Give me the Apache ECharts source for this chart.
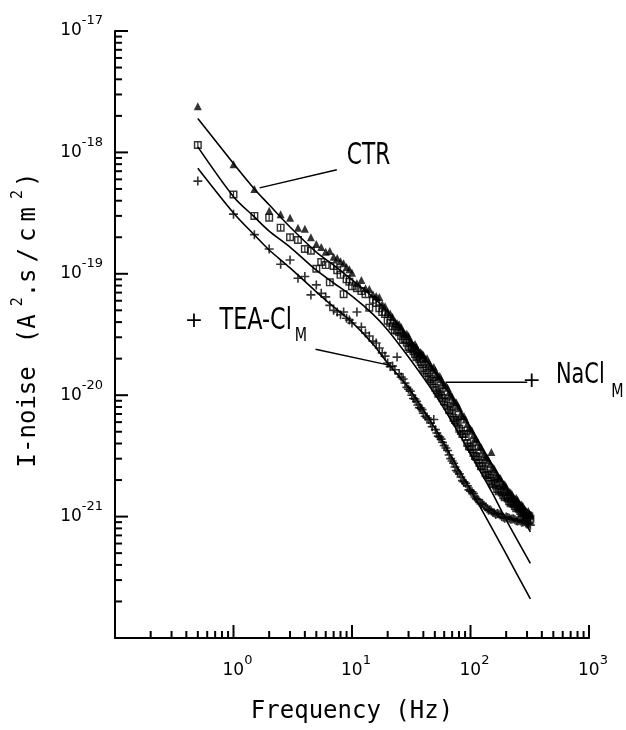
<!DOCTYPE html>
<html>
<head>
<meta charset="utf-8">
<script src="https://cdn.jsdelivr.net/npm/echarts@6/dist/echarts.min.js"></script>
<style>
  html, body { margin: 0; padding: 0; background: #fff; }
  #chart { width: 626px; height: 730px; }
</style>
</head>
<body>
<div id="chart"></div>
<script>
// Current-noise power spectra: control (CTR), NaCl mucosal and TEA-Cl mucosal.
const freq = [0.5, 1, 1.5, 2, 2.5, 3, 3.5, 4, 4.5, 5,
  5.5, 6, 6.5, 7, 7.5, 8, 8.5, 9, 9.5, 10,
  11, 12, 13, 14, 15, 16, 17, 18, 19, 20,
  22, 24, 26, 28, 30, 32, 34, 36, 38, 40,
  43, 46, 49, 52, 55, 58, 62, 66, 70, 74,
  78, 83, 88, 94, 100, 106, 112, 119, 126, 134,
  142, 150, 159, 168, 178, 189, 200, 212, 224, 237,
  250, 263, 277, 292, 307, 320];

const ctrNoise = [2.4e-18, 8.0e-19, 5.0e-19, 3.3e-19, 3.1e-19, 2.9e-19, 2.4e-19, 2.35e-19, 2.0e-19, 1.76e-19,
  1.66e-19, 1.52e-19, 1.54e-19, 1.38e-19, 1.35e-19, 1.27e-19, 1.22e-19, 1.14e-19, 1.09e-19, 1.02e-19,
  8.4e-20, 8.9e-20, 7.6e-20, 7.5e-20, 6.8e-20, 6.55e-20, 6.45e-20, 5.6e-20, 5.4e-20, 4.85e-20,
  4.4e-20, 3.93e-20, 3.64e-20, 3.19e-20, 3.07e-20, 2.69e-20, 2.64e-20, 2.36e-20, 2.27e-20, 2.14e-20,
  2.02e-20, 1.77e-20, 1.71e-20, 1.49e-20, 1.44e-20, 1.28e-20, 1.21e-20, 1.06e-20, 9.7e-21, 8.8e-21,
  8.2e-21, 7.1e-21, 6.75e-21, 5.8e-21, 5.3e-21, 4.7e-21, 4.35e-21, 3.8e-21, 3.5e-21, 3.1e-21,
  2.9e-21, 3.4e-21, 2.47e-21, 2.16e-21, 2.08e-21, 1.82e-21, 1.75e-21, 1.6e-21, 1.53e-21, 1.40e-21,
  1.37e-21, 1.25e-21, 1.22e-21, 1.13e-21, 1.11e-21, 1.03e-21];

const naclNoise = [1.15e-18, 4.5e-19, 3.0e-19, 2.9e-19, 2.4e-19, 2.0e-19, 1.9e-19, 1.6e-19, 1.55e-19, 1.1e-19,
  1.25e-19, 1.18e-19, 8.5e-20, 1.16e-19, 1.07e-19, 9.8e-20, 6.8e-20, 9.0e-20, 8.6e-20, 7.9e-20,
  7.6e-20, 7.2e-20, 6.8e-20, 5.26e-20, 6.1e-20, 5.75e-20, 5.2e-20, 4.85e-20, 4.66e-20, 4.1e-20,
  3.7e-20, 3.4e-20, 3.07e-20, 2.9e-20, 2.5e-20, 2.45e-20, 2.18e-20, 2.1e-20, 1.88e-20, 1.67e-20,
  1.52e-20, 1.36e-20, 1.24e-20, 1.10e-20, 1.06e-20, 9.5e-21, 8.8e-21, 7.55e-21, 7.1e-21, 6.25e-21,
  5.9e-21, 5.06e-21, 4.79e-21, 4.04e-21, 3.74e-21, 3.34e-21, 3.1e-21, 2.76e-21, 2.61e-21, 2.28e-21,
  2.2e-21, 1.96e-21, 1.89e-21, 1.69e-21, 1.66e-21, 1.5e-21, 1.48e-21, 1.34e-21, 1.32e-21, 1.22e-21,
  1.2e-21, 1.11e-21, 1.09e-21, 1.03e-21, 1.02e-21, 9.6e-22];

const teaNoise = [5.8e-19, 3.1e-19, 2.1e-19, 1.6e-19, 1.2e-19, 1.3e-19, 9.2e-20, 9.5e-20, 6.7e-20, 8.1e-20,
  6.9e-20, 6.45e-20, 5.5e-20, 5.0e-20, 4.85e-20, 4.6e-20, 4.85e-20, 4.3e-20, 4.16e-20, 3.93e-20,
  4.85e-20, 3.64e-20, 3.25e-20, 3.07e-20, 2.79e-20, 2.69e-20, 2.45e-20, 2.23e-20, 2.1e-20, 1.84e-20,
  1.74e-20, 2.06e-20, 1.41e-20, 1.26e-20, 1.12e-20, 1.0e-20, 9.3e-21, 8.3e-21, 7.85e-21, 7.1e-21,
  6.5e-21, 5.9e-21, 6.3e-21, 4.88e-21, 4.52e-21, 4.1e-21, 3.67e-21, 3.22e-21, 2.87e-21, 2.56e-21,
  2.33e-21, 2.12e-21, 1.93e-21, 1.79e-21, 1.62e-21, 1.55e-21, 1.4e-21, 1.32e-21, 1.28e-21, 1.2e-21,
  1.13e-21, 1.11e-21, 1.07e-21, 1.06e-21, 1.03e-21, 9.9e-22, 9.93e-22, 9.7e-22, 9.56e-22, 9.4e-22,
  9.2e-22, 9.25e-22, 9.03e-22, 8.85e-22, 8.75e-22, 8.5e-22];

// Second, interleaved frequency set above 20 Hz (denser spectral lines)
const freqMid = [21, 23, 25, 27, 29, 31, 33, 35, 37, 39,
  41.5, 44.5, 47.5, 50.5, 53.5, 56.5, 60, 64, 68, 72,
  76, 80.5, 85.5, 91, 97, 103, 109, 115.5, 122.5, 130,
  138, 146, 154.5, 163.5, 173, 183.5, 194.5, 206, 218, 230.5,
  243.5, 256.5, 270, 284.5, 299.5, 313.5];

const ctrMid = [4.7e-20, 4.05e-20, 3.85e-20, 3.35e-20, 3.2e-20, 2.8e-20, 2.55e-20, 2.5e-20, 2.22e-20, 2.2e-20,
  1.98e-20, 1.86e-20, 1.66e-20, 1.6e-20, 1.42e-20, 1.36e-20, 1.22e-20, 1.15e-20, 1.02e-20, 9.0e-21,
  8.7e-21, 7.8e-21, 6.7e-21, 6.3e-21, 5.4e-21, 5.1e-21, 4.4e-21, 4.1e-21, 3.75e-21, 3.25e-21,
  3.05e-21, 2.7e-21, 2.55e-21, 2.3e-21, 2.1e-21, 1.95e-21, 1.85e-21, 1.62e-21, 1.58e-21, 1.44e-21,
  1.42e-21, 1.28e-21, 1.26e-21, 1.15e-21, 1.08e-21, 1.06e-21];

const naclMid = [3.95e-20, 3.45e-20, 3.3e-20, 2.85e-20, 2.7e-20, 2.4e-20, 2.3e-20, 2.05e-20, 1.98e-20, 1.8e-20,
  1.6e-20, 1.42e-20, 1.31e-20, 1.15e-20, 1.03e-20, 1.0e-20, 8.9e-21, 8.2e-21, 7.5e-21, 6.5e-21,
  6.1e-21, 5.3e-21, 4.8e-21, 4.5e-21, 3.8e-21, 3.6e-21, 3.15e-21, 2.95e-21, 2.6e-21, 2.45e-21,
  2.2e-21, 2.1e-21, 1.86e-21, 1.8e-21, 1.62e-21, 1.58e-21, 1.44e-21, 1.41e-21, 1.29e-21, 1.27e-21,
  1.17e-21, 1.16e-21, 1.07e-21, 1.06e-21, 9.9e-22, 1.0e-21];

const teaMid = [1.72e-20, 1.62e-20, 1.5e-20, 1.36e-20, 1.16e-20, 1.08e-20, 9.4e-21, 8.9e-21, 7.9e-21, 7.6e-21,
  6.7e-21, 6.3e-21, 5.5e-21, 5.2e-21, 4.6e-21, 4.35e-21, 3.85e-21, 3.5e-21, 3.0e-21, 2.75e-21,
  2.4e-21, 2.25e-21, 1.98e-21, 1.88e-21, 1.66e-21, 1.6e-21, 1.45e-21, 1.38e-21, 1.27e-21, 1.24e-21,
  1.16e-21, 1.14e-21, 1.08e-21, 1.04e-21, 1.05e-21, 1.0e-21, 9.7e-22, 9.85e-22, 9.5e-22, 9.6e-22,
  9.25e-22, 9.35e-22, 9.0e-22, 9.1e-22, 8.7e-22, 8.8e-22];

// Fitted spectra (1/f plus Lorentzian), sampled along each curve
const fitFreq = [0.5, 1, 1.5, 2, 3, 5, 7, 10, 15, 20, 30, 50, 70, 100, 150, 200, 320];
const ctrFit  = [1.9e-18, 8.1e-19, 5.0e-19, 3.7e-19, 2.43e-19, 1.51e-19, 1.18e-19, 8.9e-20, 6.45e-20, 4.85e-20, 3.0e-20, 1.55e-20, 9.5e-21, 5.4e-21, 2.76e-21, 1.75e-21, 7.47e-22];
const naclFit = [1.11e-18, 4.32e-19, 2.94e-19, 2.25e-19, 1.66e-19, 1.07e-19, 8.4e-20, 6.55e-20, 4.66e-20, 3.45e-20, 2.06e-20, 1.02e-20, 6.0e-21, 3.28e-21, 1.62e-21, 9.4e-22, 4.12e-22];
const teaFit  = [7.4e-19, 3.17e-19, 2.09e-19, 1.57e-19, 1.12e-19, 7.1e-20, 5.33e-20, 4.0e-20, 2.64e-20, 1.84e-20, 1.15e-20, 5.37e-21, 3.04e-21, 1.66e-21, 8.2e-22, 4.9e-22, 2.1e-22];

// Axis ranges and tick positions
const xRange = [0.1, 1000];
const yRange = [1e-22, 1e-17];
const xMajorTicks = [1, 10, 100, 1000];
const xMinorTicks = [0.2, 0.3, 0.4, 0.5, 0.6, 0.7, 0.8, 0.9,
  2, 3, 4, 5, 6, 7, 8, 9,
  20, 30, 40, 50, 60, 70, 80, 90,
  200, 300, 400, 500, 600, 700, 800, 900];
const yMajorTicks = [1e-21, 1e-20, 1e-19, 1e-18, 1e-17];
const yMinorTicks = [2e-22, 3e-22, 4e-22, 5e-22, 6e-22, 7e-22, 8e-22, 9e-22,
  2e-21, 3e-21, 4e-21, 5e-21, 6e-21, 7e-21, 8e-21, 9e-21,
  2e-20, 3e-20, 4e-20, 5e-20, 6e-20, 7e-20, 8e-20, 9e-20,
  2e-19, 3e-19, 4e-19, 5e-19, 6e-19, 7e-19, 8e-19, 9e-19,
  2e-18, 3e-18, 4e-18, 5e-18, 6e-18, 7e-18, 8e-18, 9e-18];

// Annotation pointers, in data coordinates [Hz, A^2 s/cm^2]
const ctrPointer  = [[1.66, 5.1e-19], [7.45, 7.2e-19]];
const teaPointer  = [[20.5, 1.77e-20], [4.92, 2.39e-20]];
const naclPointer = [[62, 1.28e-20], [301, 1.28e-20]];

const INK = '#000';
const pair = (xs, ys) => xs.map((x, i) => [x, ys[i]]);

function powerLabel(v) {
  const e = Math.round(Math.log10(v));
  return '{b|10}{s|' + e + '}';
}
const powerRich = {
  b: { fontFamily: 'DejaVu Sans', fontSize: 17, color: INK },
  s: { fontFamily: 'DejaVu Sans', fontSize: 13, color: INK, padding: [0, 0, 20, 0] }
};

function xTick(len) {
  return function (params, api) {
    const p = api.coord([api.value(0), yRange[0]]);
    return { type: 'line', shape: { x1: p[0], y1: p[1], x2: p[0], y2: p[1] - len },
      style: { stroke: INK, lineWidth: 2 } };
  };
}
function yTick(len) {
  return function (params, api) {
    const p = api.coord([xRange[0], api.value(1)]);
    return { type: 'line', shape: { x1: p[0], y1: p[1], x2: p[0] + len, y2: p[1] },
      style: { stroke: INK, lineWidth: 2 } };
  };
}

// Marker shapes: plus, and an open square with a centre bar
const plusPath = 'path://M4.1,0H5.9V4.1H10V5.9H5.9V10H4.1V5.9H0V4.1H4.1Z';
const squarePath = 'path://M0,0H10V10H0Z M1.8,1.8V8.2H8.2V1.8Z M4.2,1.8H5.8V8.2H4.2Z';

const fitStyle = { color: INK, width: 1.6 };

const mono = 'DejaVu Sans Mono';
const titleRich = {
  n: { fontFamily: mono, fontSize: 24, color: INK },
  p: { fontFamily: mono, fontSize: 24, color: INK, padding: [0, 0, 0, 23] },
  g: { fontFamily: mono, fontSize: 24, color: INK, padding: [0, 0, 0, 6] },
  s: { fontFamily: mono, fontSize: 15, color: INK, padding: [0, 0, 20, 8] },
  e: { fontFamily: mono, fontSize: 24, color: INK, padding: [0, 0, 0, 3] }
};

const option = {
  animation: false,
  backgroundColor: '#fff',
  grid: { left: 115, right: 37, top: 31, bottom: 92, containLabel: false, outerBoundsMode: 'none' },
  xAxis: {
    type: 'log', logBase: 10, min: xRange[0], max: xRange[1],
    name: 'Frequency (Hz)', nameLocation: 'middle', nameGap: 62,
    nameTextStyle: { fontFamily: mono, fontSize: 24, color: INK },
    axisLine: { show: true, lineStyle: { color: INK, width: 2 } },
    axisTick: { show: false }, minorTick: { show: false }, splitLine: { show: false },
    axisLabel: { showMinLabel: false, margin: 16, padding: [0, 0, 0, 8], formatter: powerLabel, rich: powerRich }
  },
  yAxis: {
    type: 'log', logBase: 10, min: yRange[0], max: yRange[1],
    name: '{n|I-noise}{p|(A}{s|2}{n|.s}{g|/}{g|c}{g|m}{s|2}{e|)}',
    nameLocation: 'middle', nameRotate: 90, nameGap: 69,
    nameTextStyle: { fontFamily: mono, fontSize: 24, color: INK, padding: [0, 0, 0, 29], rich: titleRich },
    axisLine: { show: true, lineStyle: { color: INK, width: 2 } },
    axisTick: { show: false }, minorTick: { show: false }, splitLine: { show: false },
    axisLabel: { showMinLabel: false, margin: 12, formatter: powerLabel, rich: powerRich }
  },
  series: [
    { type: 'custom', silent: true, clip: false, renderItem: xTick(13),
      data: xMajorTicks.map(v => [v, yRange[0]]) },
    { type: 'custom', silent: true, clip: false, renderItem: xTick(7),
      data: xMinorTicks.map(v => [v, yRange[0]]) },
    { type: 'custom', silent: true, clip: false, renderItem: yTick(13),
      data: yMajorTicks.map(v => [xRange[0], v]) },
    { type: 'custom', silent: true, clip: false, renderItem: yTick(7),
      data: yMinorTicks.map(v => [xRange[0], v]) },

    { name: 'TEA-Cl M', type: 'scatter', symbol: plusPath, symbolSize: 9,
      itemStyle: { color: INK }, data: pair(freq, teaNoise).concat(pair(freqMid, teaMid)) },
    { name: 'NaCl M', type: 'scatter', symbol: squarePath, symbolSize: 8,
      itemStyle: { color: INK }, data: pair(freq, naclNoise).concat(pair(freqMid, naclMid)) },
    { name: 'CTR', type: 'scatter', symbol: 'triangle', symbolSize: 8,
      itemStyle: { color: INK }, data: pair(freq, ctrNoise).concat(pair(freqMid, ctrMid)) },

    { type: 'line', smooth: 0.3, showSymbol: false, silent: true, lineStyle: fitStyle, data: pair(fitFreq, ctrFit) },
    { type: 'line', smooth: 0.3, showSymbol: false, silent: true, lineStyle: fitStyle, data: pair(fitFreq, naclFit) },
    { type: 'line', smooth: 0.3, showSymbol: false, silent: true, lineStyle: fitStyle, data: pair(fitFreq, teaFit) }
  ]
};

const chart = echarts.init(document.getElementById('chart'), null, { renderer: 'canvas' });
chart.setOption(option);

// Labels with leader lines, anchored to the data coordinates above
function txt(s, x, y, size, sx, align) {
  return {
    type: 'text', x: x, y: y, scaleX: sx, silent: true,
    style: { text: s, fontFamily: 'DejaVu Sans', fontSize: size, fill: INK,
      align: align || 'left', verticalAlign: 'middle',
      textAlign: align || 'left', textVerticalAlign: 'middle' }
  };
}
function seg(a, b) {
  return { type: 'line', silent: true,
    shape: { x1: a[0], y1: a[1], x2: b[0], y2: b[1] },
    style: { stroke: INK, lineWidth: 1.4 } };
}
const toPx = p => chart.convertToPixel({ xAxisIndex: 0, yAxisIndex: 0 }, p);
const c0 = toPx(ctrPointer[0]), c1 = toPx(ctrPointer[1]);
const t0 = toPx(teaPointer[0]), t1 = toPx(teaPointer[1]);
const n0 = toPx(naclPointer[0]), n1 = toPx(naclPointer[1]);

chart.setOption({
  graphic: { elements: [
    seg(c0, c1),
    txt('CTR', c1[0] + 10, c1[1] - 13.5, 31, 0.70),

    seg(t0, t1),
    txt('+', t1[0] - 121.5, t1[1] - 27.5, 22, 1, 'center'),
    txt('TEA-Cl', t1[0] - 96, t1[1] - 28, 31, 0.72),
    txt('M', t1[0] - 20.7, t1[1] - 13, 19, 0.75),

    seg(n0, n1),
    txt('+', n1[0] + 4.5, n1[1] - 0.5, 22, 1, 'center'),
    txt('NaCl', n1[0] + 28.7, n1[1] - 7, 29, 0.72),
    txt('M', n1[0] + 84, n1[1] + 10, 19, 0.75)
  ] }
});
</script>
</body>
</html>
